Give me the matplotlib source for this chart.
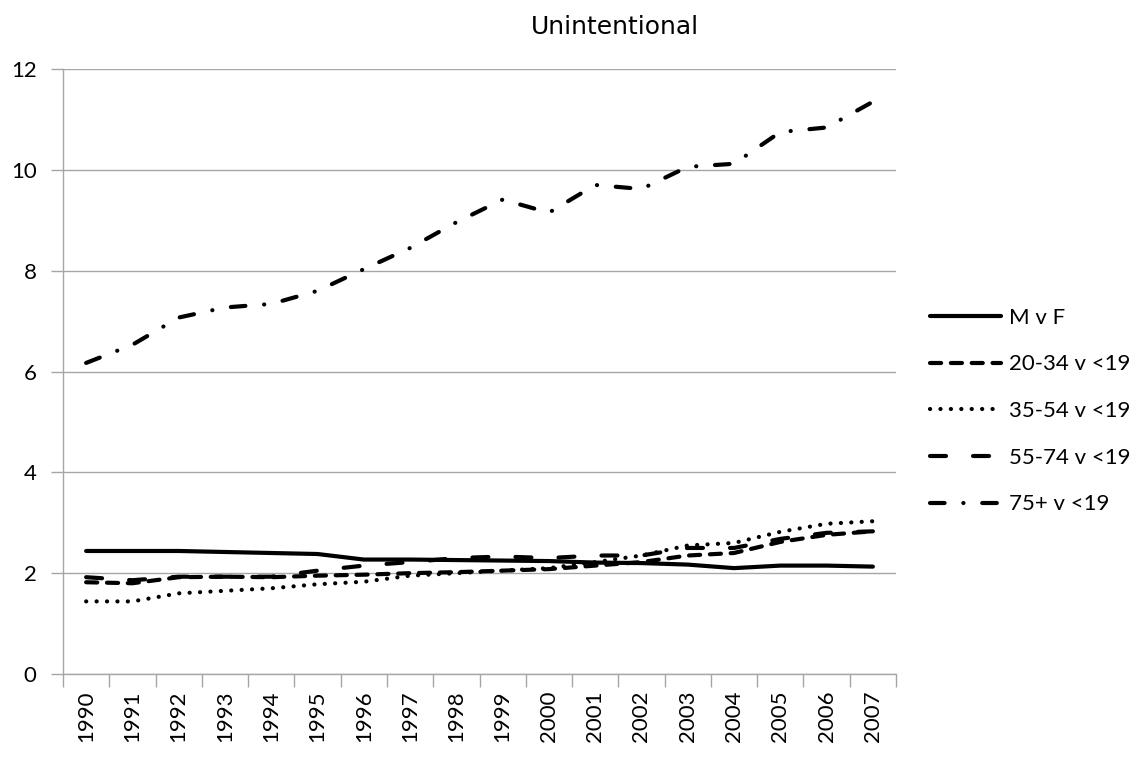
import matplotlib
matplotlib.use("Agg")
from matplotlib import pyplot as plt
import numpy as np

plt.rcParams['lines.scale_dashes'] = False

years = [str(y) for y in range(1990, 2008)]

m_v_f = [2.44, 2.44, 2.44, 2.42, 2.40, 2.38, 2.27, 2.27, 2.26,
         2.25, 2.24, 2.21, 2.20, 2.17, 2.10, 2.15, 2.15, 2.13]
age_20_34 = [1.82, 1.80, 1.92, 1.93, 1.92, 1.95, 1.97, 2.00, 2.02,
             2.05, 2.08, 2.15, 2.22, 2.35, 2.40, 2.62, 2.76, 2.83]
age_35_54 = [1.44, 1.44, 1.60, 1.65, 1.70, 1.78, 1.83, 1.95, 2.00,
             2.05, 2.10, 2.22, 2.35, 2.55, 2.60, 2.82, 2.98, 3.03]
age_55_74 = [1.92, 1.86, 1.93, 1.93, 1.93, 2.05, 2.15, 2.22, 2.30,
             2.33, 2.30, 2.35, 2.35, 2.50, 2.50, 2.68, 2.80, 2.83]
age_75 = [6.17, 6.53, 7.07, 7.27, 7.34, 7.60, 8.03, 8.45, 8.96,
          9.41, 9.15, 9.70, 9.62, 10.06, 10.12, 10.75, 10.84, 11.35]

labels = ["M v F", "20-34 v <19", "35-54 v <19", "55-74 v <19", "75+ v <19"]

W, H = 1144, 759
fig = plt.figure(figsize=(W / 100, H / 100), dpi=100)
# plot box in pixels: left 63, right 896, top 69, bottom 674
ax = fig.add_axes([63 / W, 1 - 674 / H, (896 - 63) / W, (674 - 69) / H])

x = np.arange(len(years))
lw = 3.0
styles = [
    '-',
    (0, (8.0, 7.0)),
    (0, (0.1, 7.4)),
    (0, (11.5, 19.5)),
    (0, (10.5, 13.5, 0.1, 13.5)),
]
series = [m_v_f, age_20_34, age_35_54, age_55_74, age_75]

handles = []
for vals, ls, lab in zip(series, styles, labels):
    ln, = ax.plot(x, vals, color='black', lw=lw, linestyle=ls,
                  solid_capstyle='round', dash_capstyle='round', label=lab)
    handles.append(ln)

ax.set_xlim(-0.5, len(years) - 0.5)
ax.set_ylim(0, 12)
ax.set_yticks(range(0, 13, 2))
ax.grid(axis='y', color='#a6a6a6', lw=1)
ax.set_axisbelow(True)

for s in ['top', 'right']:
    ax.spines[s].set_visible(False)
for s in ['left', 'bottom']:
    ax.spines[s].set_color('#a6a6a6')
    ax.spines[s].set_linewidth(1)

# category boundaries as tick marks, labels at centres
ax.set_xticks(np.arange(-0.5, len(years), 1.0))
ax.set_xticklabels([])
ax.set_xticks(x, minor=True)
ax.set_xticklabels(years, minor=True, rotation=90, fontsize=16, family='Lato')
ax.tick_params(axis='x', which='major', length=9, color='#a6a6a6', width=1)
ax.tick_params(axis='x', which='minor', length=0, pad=12)
ax.tick_params(axis='y', length=9, color='#a6a6a6', width=1, labelsize=16, pad=10)
for t in ax.get_yticklabels():
    t.set_family('Lato')

fig.text(615 / W, 1 - 27 / H, "Unintentional", ha='center', va='center',
         fontsize=18, family='DejaVu Sans')

fig.legend(handles=handles, loc='center left',
           bbox_to_anchor=(930 / W, 1 - 411 / H), frameon=False,
           prop={'family': 'Lato', 'size': 16}, handlelength=3.2,
           handletextpad=0.35, labelspacing=1.2, borderaxespad=0,
           borderpad=0)

fig.savefig("out.png", dpi=100, facecolor='white')
